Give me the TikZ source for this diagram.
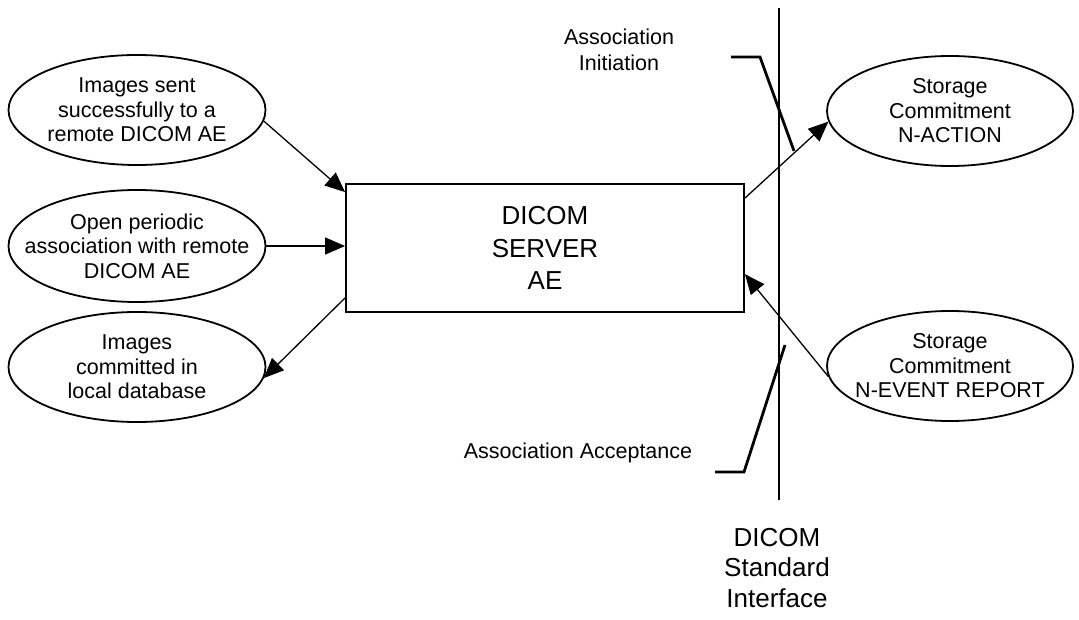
\documentclass[tikz,border=0pt]{standalone}
\usepackage{fontspec}
\setmainfont{Liberation Sans}
\usetikzlibrary{arrows.meta,calc,shapes.geometric}
\begin{document}
\begin{tikzpicture}[x=1pt,y=-1pt,
  oval/.style={draw,line width=1.8pt,ellipse,minimum width=257pt,minimum height=110pt,inner sep=0pt},
  ovtext/.style={align=center,inner sep=0pt,font=\fontsize{21.5}{24.5}\selectfont},
  serverbox/.style={draw,line width=1.8pt,minimum width=398pt,minimum height=128pt,inner sep=0pt,
    align=center,font=\fontsize{26}{32.5}\selectfont},
  lbl/.style={align=center,font=\fontsize{21.5}{25.5}\selectfont,inner sep=0pt},
  biglbl/.style={align=center,font=\fontsize{26}{30.5}\selectfont,inner sep=0pt},
  flow/.style={line width=1.3pt,-{Triangle[length=20pt,width=17pt]}},
  iface/.style={line width=2pt},
  bracket/.style={line width=2.8pt}]
\useasboundingbox (0,0) rectangle (1079,620);

\node[serverbox] (box) at (545,248) {DICOM\\SERVER\\AE};

\node[oval,label={[ovtext]center:Images sent\\successfully to a\\remote DICOM AE}] (e1) at (137,110) {};
\node[oval,minimum height=112pt,label={[ovtext]center:Open periodic\\association with remote\\DICOM AE}] (e2) at (137,246) {};
\node[oval,label={[ovtext]center:Images\\committed in\\local database}] (e3) at (137,367) {};
\node[oval,minimum width=246pt,label={[ovtext]center:Storage\\Commitment\\N-ACTION}] (e4) at (950,111) {};
\node[oval,minimum width=246pt,label={[ovtext]center:Storage\\Commitment\\N-EVENT REPORT}] (e5) at (950,366) {};

\node[lbl] (ini) at (619,50) {Association\\Initiation};
\node[lbl] (acc) at (578,453) {Association Acceptance};
\node[biglbl] (std) at (777,568) {DICOM\\Standard\\Interface};

% interface line
\coordinate (itop) at (779,8);
\coordinate (ibot) at (779,500);
\draw[iface] (itop) -- (ibot);

% brackets
\draw[bracket] (731,57) -- (760,57) -- (794,151);
\draw[bracket] (715,472) -- (744,472) -- (785,345);

% connectors
\draw[flow] (e1.-5) -- ($(box.north west)+(0,9)$);
\draw[flow] (e2.east) -- (e2.east -| box.west);
\draw[flow] ($(box.south west)+(0,-15)$) -- (e3.-5);
\draw[flow] ($(box.north east)+(0,15)$) -- (e4.185);
\draw[flow] (e5.185) -- ($(box.north east)+(0,91)$);
\end{tikzpicture}
\end{document}
